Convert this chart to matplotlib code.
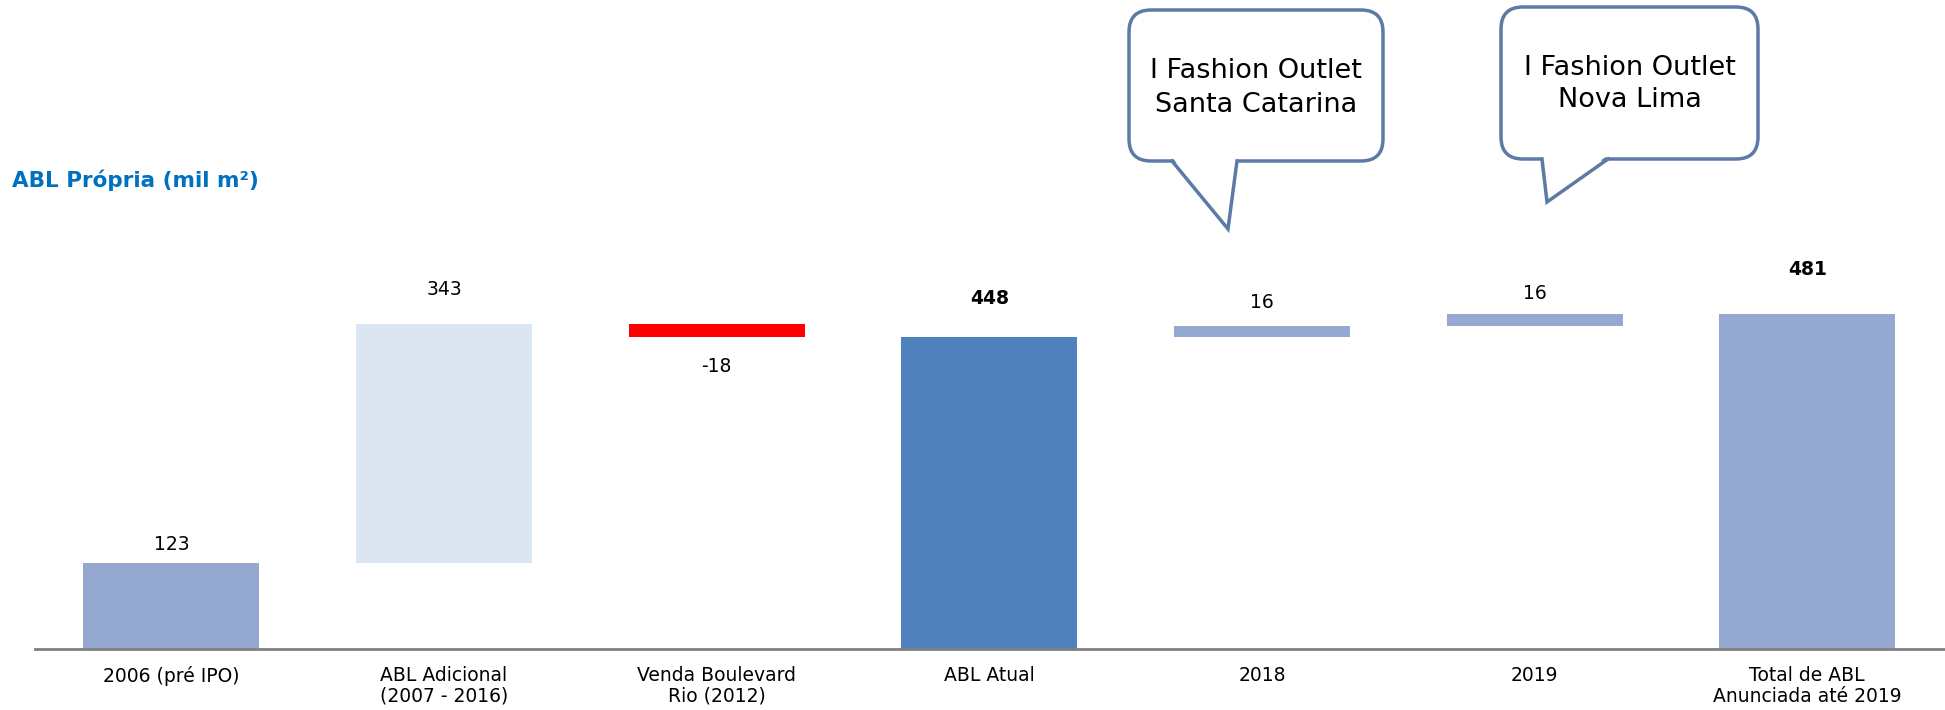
import matplotlib.pyplot as plt
from matplotlib.patches import FancyBboxPatch, Polygon
from matplotlib.lines import Line2D

categories = ['2006 (pré IPO)', 'ABL Adicional\n(2007 - 2016)', 'Venda Boulevard\nRio (2012)',
              'ABL Atual', '2018', '2019', 'Total de ABL\nAnunciada até 2019']
values = [123, 343, -18, 448, 16, 16, 481]
is_total = [True, False, False, True, False, False, True]
value_labels = ['123', '343', '-18', '448', '16', '16', '481']
bold_labels = [False, False, False, True, False, False, True]
colors = ['#95A9D0', '#DCE6F2', '#FF0000', '#4F81BD', '#95A9D0', '#95A9D0', '#95A9D0']

callout_texts = ['I Fashion Outlet\nSanta Catarina', 'I Fashion Outlet\nNova Lima']

# label offsets in pixels from the bar end (positive = up)
label_offsets = [19, 35, -30, 38, 23, 21, 44]

W, H = 1945, 710
fig = plt.figure(figsize=(W / 100, H / 100), dpi=100)
ax = fig.add_axes([35 / W, 1 - 649 / H, 1 - 35 / W, 649 / H])

# waterfall bottoms
bottoms = []
running = 0
for v, tot in zip(values, is_total):
    if tot:
        bottoms.append(0)
        running = v
    else:
        if v >= 0:
            bottoms.append(running)
        else:
            bottoms.append(running + v)
        running += v
heights = [abs(v) for v in values]

x = list(range(len(categories)))
ax.bar(x, heights, bottom=bottoms, width=0.645, color=colors, zorder=2)

ax.set_xlim(-0.5, 6.505)
ax.set_ylim(0, 931)

for i in x:
    top = bottoms[i] + heights[i]
    off = label_offsets[i]
    ypos = top if off > 0 else bottoms[i]
    ax.annotate(value_labels[i], (i, ypos), xytext=(0, off * 0.72), textcoords='offset points',
                ha='center', va='center', fontsize=13.5,
                fontweight='bold' if bold_labels[i] else 'normal', color='black')

for s in ['top', 'right', 'left']:
    ax.spines[s].set_visible(False)
ax.spines['bottom'].set_color('#808080')
ax.spines['bottom'].set_linewidth(2)
ax.set_yticks([])
ax.set_xticks(x)
ax.set_xticklabels(categories, fontsize=13.5, linespacing=1.15)
ax.tick_params(axis='x', length=0, pad=12)

fig.text(12 / W, 1 - 180 / H, 'ABL Própria (mil m²)', fontsize=15.5, fontweight='bold',
         color='#0070C0', ha='left', va='center')


def px(xp, yp):
    return (xp / 100, (H - yp) / 100)


def callout(box, tail, text, text_y, spacing):
    edge = '#5B7BA6'
    x0, y0, x1, y1 = box
    bx, by = px(x0, y1)
    r = FancyBboxPatch((bx + 0.22, by + 0.22), (x1 - x0) / 100 - 0.44, (y1 - y0) / 100 - 0.44,
                       boxstyle='round,pad=0.22', transform=fig.dpi_scale_trans,
                       facecolor='white', edgecolor=edge, linewidth=2.5, zorder=5)
    fig.add_artist(r)
    b1, tip, b2 = [px(*p) for p in tail]
    cover = Polygon([(b1[0], b1[1] + 0.04), tip, (b2[0], b2[1] + 0.04)], closed=True,
                    transform=fig.dpi_scale_trans, facecolor='white', edgecolor='none', zorder=6)
    fig.add_artist(cover)
    fig.add_artist(Line2D([b1[0], tip[0], b2[0]], [b1[1], tip[1], b2[1]],
                          transform=fig.dpi_scale_trans, color=edge, linewidth=2.5, zorder=7,
                          solid_joinstyle='miter'))
    tx = (x0 + x1) / 2
    fig.text(tx / W, 1 - text_y / H, text, fontsize=19.5, ha='center', va='center',
             linespacing=spacing, color='black', zorder=8)


callout((1129, 10, 1383, 161), [(1172, 161), (1228, 229), (1237, 161)], callout_texts[0], 88, 1.45)
callout((1501, 7, 1758, 159), [(1542, 159), (1547, 202), (1608, 159)], callout_texts[1], 84, 1.3)

fig.savefig('out.png', dpi=100)
